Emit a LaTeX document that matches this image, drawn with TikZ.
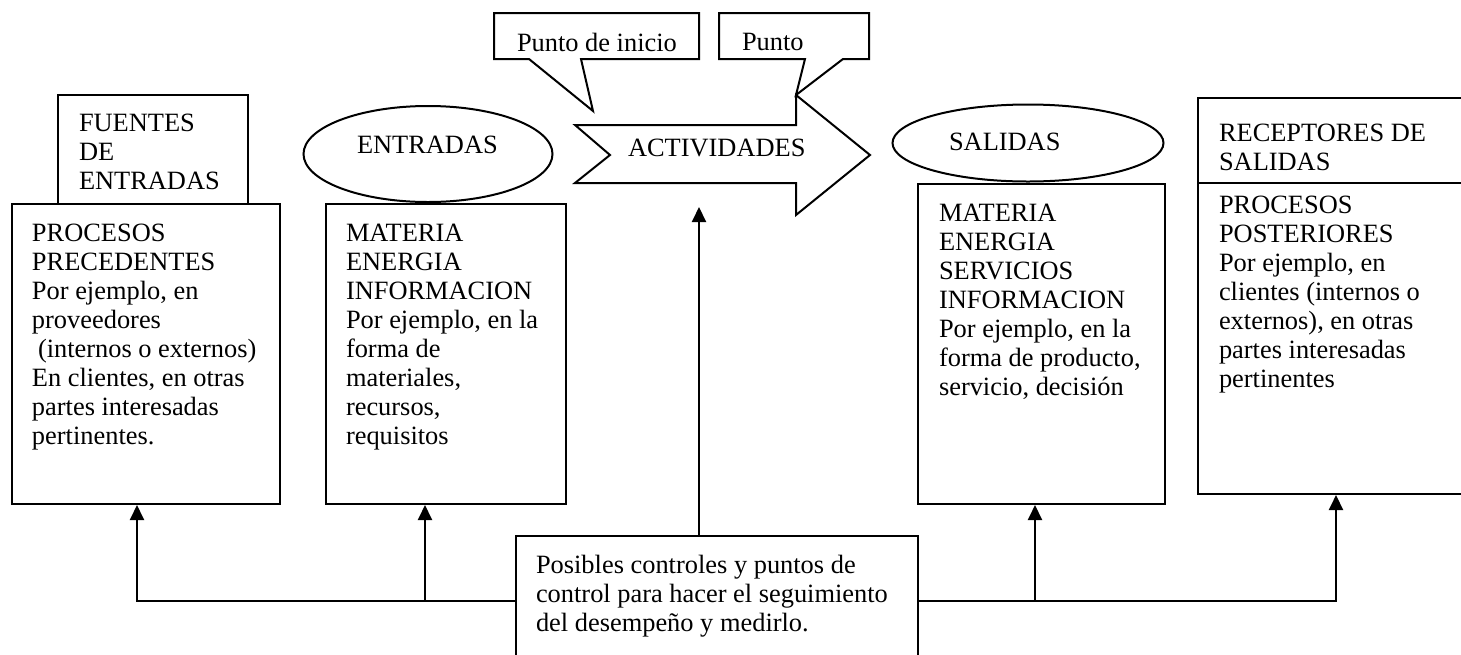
\documentclass[tikz,border=0pt]{standalone}
\usepackage{fontspec}
\setmainfont{Liberation Serif}
\usetikzlibrary{arrows.meta,shapes.geometric}
\begin{document}
\begin{tikzpicture}[x=0.5pt, y=-0.5pt, line width=1pt, >={Triangle[length=7.5pt,width=7pt]}]
    \tikzstyle{box}=[draw, anchor=north west, inner sep=0pt]
    \tikzstyle{oval}=[draw, ellipse, inner sep=0pt]
    \tikzstyle{txt}=[anchor=north west, inner sep=0pt, align=left, font=\fontsize{13.2}{14.5}\selectfont]

    \useasboundingbox (0,0) rectangle (1461,654);

    \node[box, minimum width=95pt, minimum height=54.5pt] (fuentes) at (57,94) {};
    \node[box, minimum width=134pt, minimum height=150pt] (prec) at (11,203) {};
    \node[box, minimum width=120pt, minimum height=150pt] (matin) at (325,203) {};
    \node[box, minimum width=123.5pt, minimum height=160pt] (matout) at (917,183) {};
    \node[box, minimum width=134pt, minimum height=42.5pt] (recep) at (1197,97) {};
    \node[box, minimum width=134pt, minimum height=155.5pt] (post) at (1197,182) {};
    \node[box, minimum width=201pt, minimum height=65pt] (ctrl) at (515,535) {};
    \node[oval, minimum width=124.5pt, minimum height=48pt] (entradas) at (428,154) {};
    \node[oval, minimum width=135.5pt, minimum height=38.5pt] (salidas) at (1028,143) {};

    \draw (575,125) -- (796,125) -- (796,95) -- (870,155) -- (796,215) -- (796,183) -- (575,183) -- (610,155) -- cycle;
    \draw (494,13) -- (699,13) -- (699,59) -- (581,59) -- (593,111) -- (529,59) -- (494,59) -- cycle;
    \draw (719,13) -- (869,13) -- (869,59) -- (843,59) -- (796,95) -- (805,59) -- (719,59) -- cycle;

    \node[txt] (fuentestxt) at (78,113) {FUENTES\\DE\\ENTRADAS};
    \node[txt] (prectxt) at (31,223) {PROCESOS\\PRECEDENTES\\Por ejemplo, en\\proveedores\\\hspace*{3pt}(internos o externos)\\En clientes, en otras\\partes interesadas\\pertinentes.};
    \node[txt] (matintxt) at (345,223) {MATERIA\\ENERGIA\\INFORMACION\\Por ejemplo, en la\\forma de\\materiales,\\recursos,\\requisitos};
    \node[txt] (matouttxt) at (938,203) {MATERIA\\ENERGIA\\SERVICIOS\\INFORMACION\\Por ejemplo, en la\\forma de producto,\\servicio, decisión};
    \node[txt] (receptxt) at (1218,123) {RECEPTORES DE\\SALIDAS};
    \node[txt] (posttxt) at (1218,195) {PROCESOS\\POSTERIORES\\Por ejemplo, en\\clientes (internos o\\externos), en otras\\partes interesadas\\pertinentes};
    \node[txt] (ctrltxt) at (535,554) {Posibles controles y puntos de\\control para hacer el seguimiento\\del desempeño y medirlo.};
    \node[txt] (entradastxt) at (356,135) {ENTRADAS};
    \node[txt] (salidastxt) at (948,132) {SALIDAS};
    \node[txt] (actividades) at (627,138) {ACTIVIDADES};
    \node[txt] (inicio) at (516,32) {Punto de inicio};
    \node[txt] (punto) at (741,32) {Punto};

    \coordinate (actin) at (699,207);
    \coordinate (busa) at (137,601);
    \coordinate (busb) at (425,601);
    \coordinate (busc) at (1035,601);
    \coordinate (busd) at (1336,601);

    \draw[->] (actin |- ctrl.north) -- (actin);
    \draw[->] (ctrl.west |- busa) -- (busa) -- (busa |- prec.south);
    \draw[->] (busb) -- (busb |- matin.south);
    \draw[->] (ctrl.east |- busd) -- (busd) -- (busd |- post.south);
    \draw[->] (busc) -- (busc |- matout.south);
\end{tikzpicture}
\end{document}
